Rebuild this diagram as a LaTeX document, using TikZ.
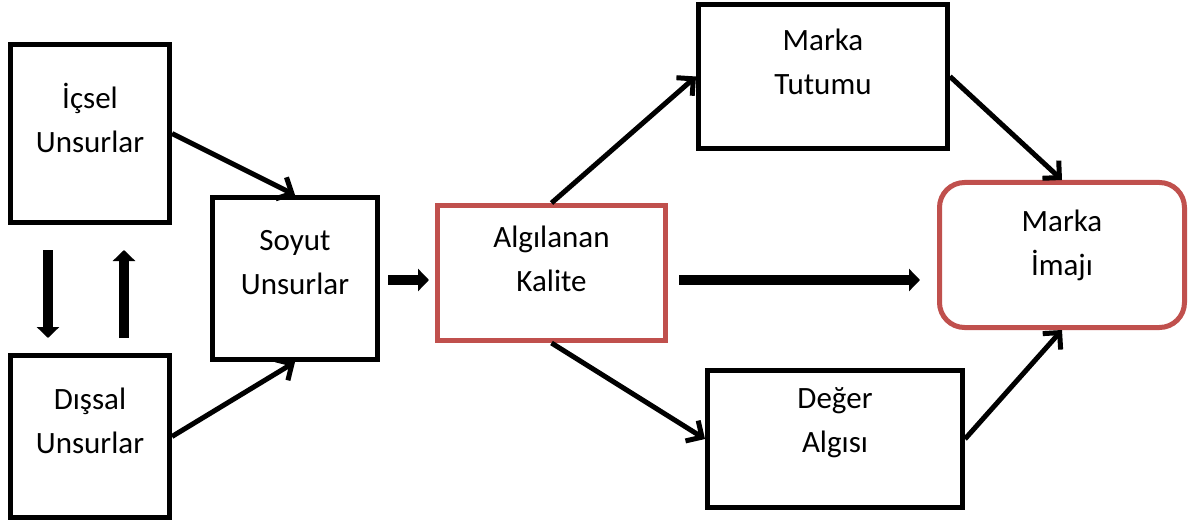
\documentclass[tikz,border=0pt]{standalone}
\usepackage{fontspec}
\setmainfont{Carlito}
\usetikzlibrary{arrows.meta}

\definecolor{cRed}{HTML}{C0504D}

\tikzset{
  box/.style={draw=black, line width=5pt, fill=white, inner sep=0pt},
  redbox/.style={box, draw=cRed},
  lbl/.style={align=center, font=\fontsize{31}{44}\selectfont, inner sep=0pt},
  thin arrow/.style={line width=5pt, -{Straight Barb[length=12pt,width=24pt]}},
  block arrow/.style={line width=10pt, -{Triangle[length=11pt,width=22pt]}},
}

\begin{document}
\begin{tikzpicture}[x=1pt,y=-1pt]

\useasboundingbox (0,0) rectangle (1195,524);

% left column
\node[box, minimum width=159, minimum height=178] (icsel) at (90,133.5) {};
\node[lbl] (icselT) at ([yshift=16pt]icsel.center) {İçsel\\Unsurlar};

\node[box, minimum width=159, minimum height=162] (dissal) at (90,436.5) {};
\node[lbl] (dissalT) at ([yshift=16pt]dissal.center) {Dışsal\\Unsurlar};

\node[box, minimum width=165, minimum height=162] (soyut) at (295,278.5) {};
\node[lbl] (soyutT) at ([yshift=16pt]soyut.center) {Soyut\\Unsurlar};

% middle
\node[redbox, minimum width=228, minimum height=135] (algi) at (551.5,273) {};
\node[lbl] (algiT) at ([yshift=14pt]algi.center) {Algılanan\\Kalite};

\node[box, minimum width=249, minimum height=144] (tutum) at (823,76.5) {};
\node[lbl] (tutumT) at ([yshift=15pt]tutum.center) {Marka\\Tutumu};

\node[box, minimum width=255, minimum height=137] (deger) at (835,439) {};
\node[lbl] (degerT) at ([yshift=16pt]deger.center) {Değer\\Algısı};

% right
\node[redbox, rounded corners=25pt, minimum width=245, minimum height=145] (imaj) at (1062,255) {};
\node[lbl] (imajT) at ([yshift=10pt]imaj.center) {Marka\\İmajı};

% connectors
\draw[thin arrow] (icsel.east) -- (soyut.north);
\draw[thin arrow] (dissal.east) -- (soyut.south);

\draw[block arrow] ([xshift=-42pt,yshift=-25pt]icsel.south)
  -- ([xshift=-42pt,yshift=15pt]dissal.north);
\draw[block arrow] ([xshift=34pt,yshift=15pt]dissal.north)
  -- ([xshift=34pt,yshift=-25pt]icsel.south);

\coordinate (midA) at ([yshift=-1.5pt]soyut.east);
\draw[block arrow] ([xshift=8pt]midA) -- ([xshift=-6pt]midA -| algi.west);
\coordinate (midB) at ([yshift=-7pt]algi.east);
\draw[block arrow] ([xshift=11pt]midB) -- ([xshift=-17pt]midB -| imaj.west);

\draw[thin arrow] (algi.north) -- (tutum.west);
\draw[thin arrow] (algi.south) -- (deger.west);
\draw[thin arrow] (tutum.east) -- (imaj.north);
\draw[thin arrow] (deger.east) -- (imaj.south);

\end{tikzpicture}
\end{document}
